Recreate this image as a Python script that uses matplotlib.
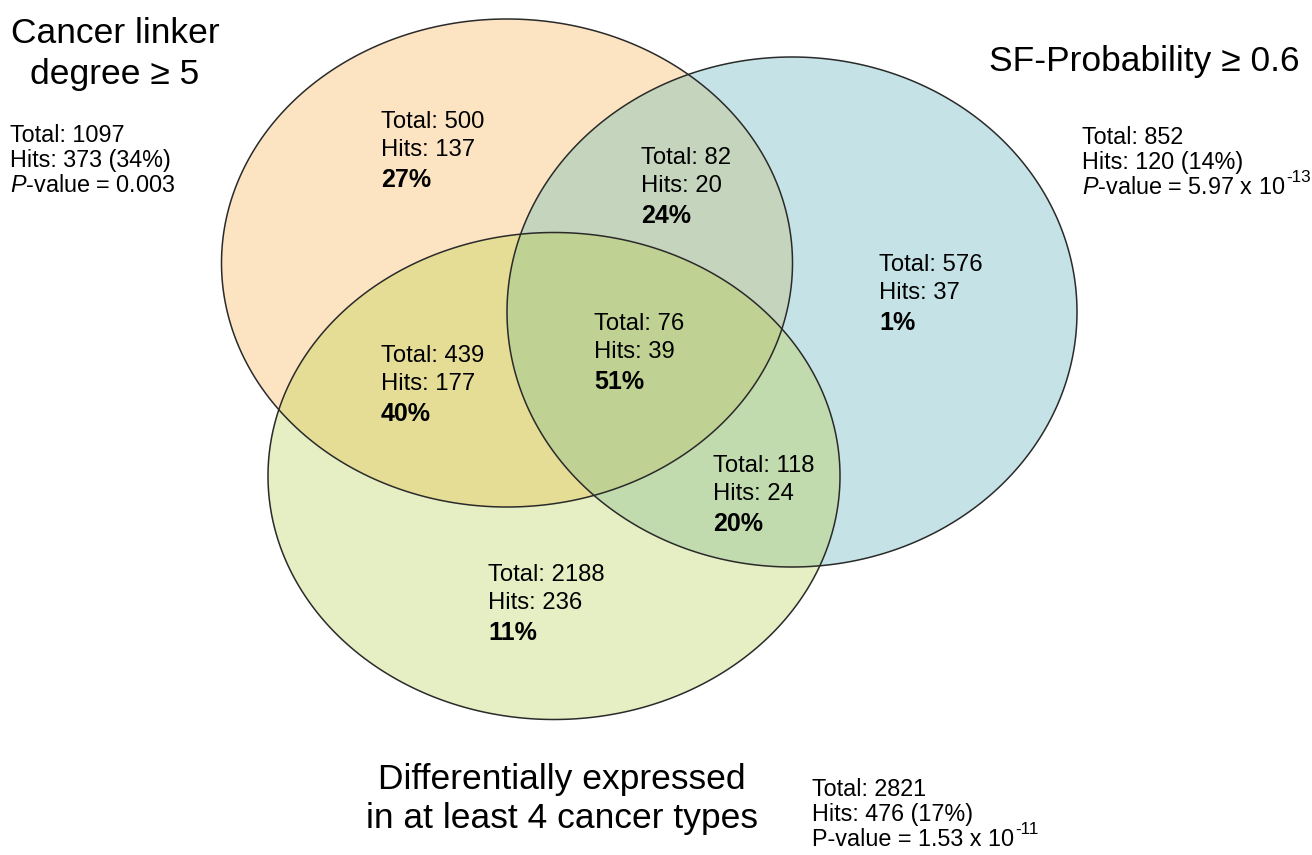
import numpy as np
import matplotlib
matplotlib.use("Agg")
import matplotlib.pyplot as plt
from matplotlib.patches import Polygon

plt.rcParams['font.family'] = ['Liberation Sans', 'DejaVu Sans']
plt.rcParams['mathtext.fontset'] = 'custom'
plt.rcParams['mathtext.rm'] = 'Liberation Sans'
plt.rcParams['mathtext.it'] = 'Liberation Sans:italic'
plt.rcParams['mathtext.bf'] = 'Liberation Sans:bold'

# ---- data ----
set_names = ["Cancer linker\ndegree ≥ 5", "SF-Probability ≥ 0.6",
             "Differentially expressed\nin at least 4 cancer types"]
set_totals = [1097, 852, 2821]
set_hits = [373, 120, 476]
set_hit_pct = [34, 14, 17]
set_pvalue_base = ["0.003", "5.97 x 10", "1.53 x 10"]
set_pvalue_exp = ["", "-13", "-11"]

region_keys = ["A", "AB", "B", "ABC", "AC", "BC", "C"]
region_totals = [500, 82, 576, 76, 439, 118, 2188]
region_hits = [137, 20, 37, 39, 177, 24, 236]
region_pct = [27, 24, 1, 51, 40, 20, 11]

# ---- layout (pixel coordinates) ----
W, H = 1312, 855
fig = plt.figure(figsize=(W / 100, H / 100), dpi=100)
ax = fig.add_axes([0, 0, 1, 1])
ax.set_xlim(0, W)
ax.set_ylim(H, 0)
ax.axis('off')

ellipses = {
    "A": dict(c=(507, 263), w=571, h=488),
    "B": dict(c=(792, 312), w=570, h=510),
    "C": dict(c=(554, 476), w=572, h=487),
}
colors = {
    "A": "#FCE4C3", "B": "#C5E3E6", "C": "#E6EEC3",
    "AB": "#C5D4BC", "AC": "#E5DD96", "BC": "#C1DBAE", "ABC": "#BFD193",
}


def ellipse_poly(e, n=900):
    t = np.linspace(0, 2 * np.pi, n, endpoint=False)
    return np.column_stack([e["c"][0] + e["w"] / 2 * np.cos(t),
                            e["c"][1] + e["h"] / 2 * np.sin(t)])


def clip(subject, clipper):
    # Sutherland-Hodgman for convex clipper
    def inside(p, a, b):
        return (b[0] - a[0]) * (p[1] - a[1]) - (b[1] - a[1]) * (p[0] - a[0]) >= 0

    def inter(p1, p2, a, b):
        x1, y1 = p1; x2, y2 = p2; x3, y3 = a; x4, y4 = b
        den = (x1 - x2) * (y3 - y4) - (y1 - y2) * (x3 - x4)
        t = ((x1 - x3) * (y3 - y4) - (y1 - y3) * (x3 - x4)) / den
        return (x1 + t * (x2 - x1), y1 + t * (y2 - y1))

    out = [tuple(p) for p in subject]
    n = len(clipper)
    for i in range(n):
        a, b = clipper[i], clipper[(i + 1) % n]
        inp = out
        out = []
        if not inp:
            break
        s = inp[-1]
        for e in inp:
            if inside(e, a, b):
                if not inside(s, a, b):
                    out.append(inter(s, e, a, b))
                out.append(e)
            elif inside(s, a, b):
                out.append(inter(s, e, a, b))
            s = e
    return np.array(out)


polys = {k: ellipse_poly(v) for k, v in ellipses.items()}
for k in ["A", "B", "C"]:
    ax.add_patch(Polygon(polys[k], closed=True, facecolor=colors[k], edgecolor='none', zorder=1))
pairs = {"AB": ("A", "B"), "AC": ("A", "C"), "BC": ("B", "C")}
pair_polys = {}
for k, (p, q) in pairs.items():
    pair_polys[k] = clip(polys[p], polys[q])
    ax.add_patch(Polygon(pair_polys[k], closed=True, facecolor=colors[k], edgecolor='none', zorder=2))
triple = clip(pair_polys["AB"], polys["C"])
ax.add_patch(Polygon(triple, closed=True, facecolor=colors["ABC"], edgecolor='none', zorder=3))
for k in ["A", "B", "C"]:
    ax.add_patch(Polygon(polys[k], closed=True, facecolor='none', edgecolor='#2a2a2a', lw=1.1, zorder=4))

# ---- region labels ----
region_pos = {
    "A": (381, 122), "AB": (641, 158), "B": (879, 265), "ABC": (594, 324),
    "AC": (381, 356), "BC": (713, 466), "C": (488, 575),
}
fs = 17.2
for key, tot, hit, pct in zip(region_keys, region_totals, region_hits, region_pct):
    x, y = region_pos[key]
    ax.text(x, y, f"Total: {tot}", fontsize=fs, ha='left', va='center', zorder=5)
    ax.text(x, y + 28, f"Hits: {hit}", fontsize=fs, ha='left', va='center', zorder=5)
    ax.text(x, y + 58, f"{pct}%", fontsize=fs + 0.8, fontweight='bold', ha='left', va='center', zorder=5)

# ---- set titles ----
title_fs = 25.5
ax.text(115, 54, set_names[0], fontsize=title_fs, ha='center', va='center', linespacing=1.32)
ax.text(1144, 62, set_names[1], fontsize=title_fs, ha='center', va='center')
ax.text(562, 799, set_names[2], fontsize=title_fs, ha='center', va='center', linespacing=1.25)

# ---- set stats ----
stat_pos = [(10, 135), (1082, 137), (812, 789)]
stat_italic_p = [True, True, False]
sfs = 16.8
for (x, y), tot, hit, hp, pb, pe, it in zip(stat_pos, set_totals, set_hits, set_hit_pct,
                                            set_pvalue_base, set_pvalue_exp, stat_italic_p):
    ax.text(x, y, f"Total: {tot}", fontsize=sfs, ha='left', va='center')
    ax.text(x, y + 25, f"Hits: {hit} ({hp}%)", fontsize=sfs, ha='left', va='center')
    plabel = "$\\it{P}$-value = " if it else "P-value = "
    t = ax.text(x, y + 50, plabel + pb, fontsize=sfs, ha='left', va='center')
    if pe:
        ax.annotate(pe, xy=(1.0, 0.58), xycoords=t, fontsize=12.3, ha='left', va='bottom',
                    xytext=(0.5, 0), textcoords='offset points')

fig.savefig("out.png", dpi=100, facecolor='white')
